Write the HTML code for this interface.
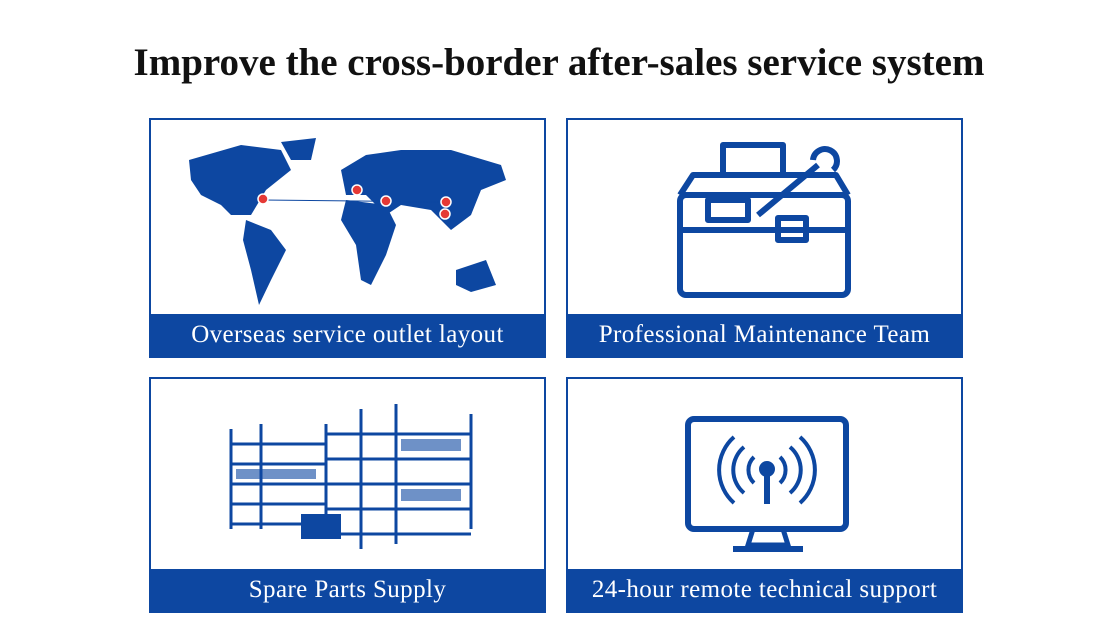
<!DOCTYPE html>
<html><head><style>
body{margin:0;width:1118px;height:630px;background:#fff;position:relative;overflow:hidden;font-family:"Liberation Serif",serif}
h1{position:absolute;top:40px;left:0;width:1118px;text-align:center;margin:0;font-size:39px;font-weight:bold;color:#111}
.box{position:absolute;width:397px;border:2px solid #0d47a1;background:#fff;box-sizing:border-box}
.lab{position:absolute;left:0;right:0;bottom:0;height:42px;background:#0d47a1;color:#fff;font-size:25px;letter-spacing:0.4px;text-align:center;line-height:42px}
svg{position:absolute}
</style></head><body>
<h1>Improve the cross-border after-sales service system</h1>
<div class="box" style="left:149px;top:118px;height:240px">
<svg width="390" height="200" viewBox="0 0 390 200">
<g fill="#0d47a1">
<path d="M38 40 L90 25 L130 30 L140 50 L115 70 L100 95 L80 95 L70 85 L50 75 L40 60Z"/>
<path d="M130 22 L165 18 L160 40 L140 40Z"/>
<path d="M95 100 L120 110 L135 130 L120 160 L108 185 L100 150 L92 120Z"/>
<path d="M190 50 L215 35 L250 30 L300 30 L350 45 L355 60 L330 70 L320 95 L300 110 L280 90 L250 85 L235 95 L215 75 L195 75Z"/>
<path d="M195 80 L235 85 L245 105 L235 135 L220 165 L210 160 L205 125 L190 100Z"/>
<path d="M305 150 L335 140 L345 165 L320 172 L305 165Z"/>
</g>
<line x1="112" y1="80" x2="295" y2="82" stroke="#0d47a1"/>
<g fill="#e53935" stroke="#fff" stroke-width="1.5">
<circle cx="112" cy="79" r="5"/><circle cx="206" cy="70" r="5"/><circle cx="235" cy="81" r="5"/><circle cx="295" cy="82" r="5"/><circle cx="294" cy="94" r="5"/>
</g></svg>
<div class="lab">Overseas service outlet layout</div></div>
<div class="box" style="left:566px;top:118px;height:240px">
<svg width="390" height="190" viewBox="0 0 390 190" fill="none" stroke="#0d47a1" stroke-width="6" stroke-linejoin="round">
<path d="M155 55 V25 H215 V55"/>
<rect x="112" y="75" width="168" height="100" rx="6"/>
<path d="M112 75 L125 55 H268 L280 75"/>
<line x1="112" y1="110" x2="280" y2="110"/>
<rect x="210" y="98" width="28" height="22"/>
<path d="M190 95 L250 45 M245 40 a12 12 0 1 1 20 10" />
<rect x="140" y="80" width="40" height="20"/>
</svg>
<div class="lab">Professional Maintenance Team</div></div>
<div class="box" style="left:149px;top:377px;height:236px">
<svg width="390" height="180" viewBox="0 0 390 180" fill="none" stroke="#0d47a1" stroke-width="3">
<path d="M80 50 V150 M110 45 V150 M175 45 V160 M210 30 V170 M245 25 V165 M320 35 V150"/>
<path d="M80 65 H175 M80 85 H175 M80 105 H175 M80 125 H175 M80 145 H175"/>
<path d="M175 55 H320 M175 80 H320 M175 105 H320 M175 130 H320 M175 155 H320"/>
<g fill="#0d47a1" stroke="none"><rect x="150" y="135" width="40" height="25"/><rect x="250" y="60" width="60" height="12" opacity=".6"/><rect x="250" y="110" width="60" height="12" opacity=".6"/><rect x="85" y="90" width="80" height="10" opacity=".6"/></g>
</svg>
<div class="lab">Spare Parts Supply</div></div>
<div class="box" style="left:566px;top:377px;height:236px">
<svg width="390" height="180" viewBox="0 0 390 180" fill="none" stroke="#0d47a1" stroke-width="6">
<rect x="120" y="40" width="158" height="110" rx="6"/>
<path d="M185 150 L180 166 H220 L215 150" stroke-width="5"/><line x1="165" y1="170" x2="235" y2="170"/>
<circle cx="199" cy="90" r="5" fill="#0d47a1"/><line x1="199" y1="95" x2="199" y2="125"/>
<path d="M186 78 a18 18 0 0 0 0 26 M212 78 a18 18 0 0 1 0 26 M176 68 a30 30 0 0 0 0 46 M222 68 a30 30 0 0 1 0 46 M166 58 a44 44 0 0 0 0 66 M232 58 a44 44 0 0 1 0 66" stroke-width="4"/>
</svg>
<div class="lab">24-hour remote technical support</div></div>
</body></html>
